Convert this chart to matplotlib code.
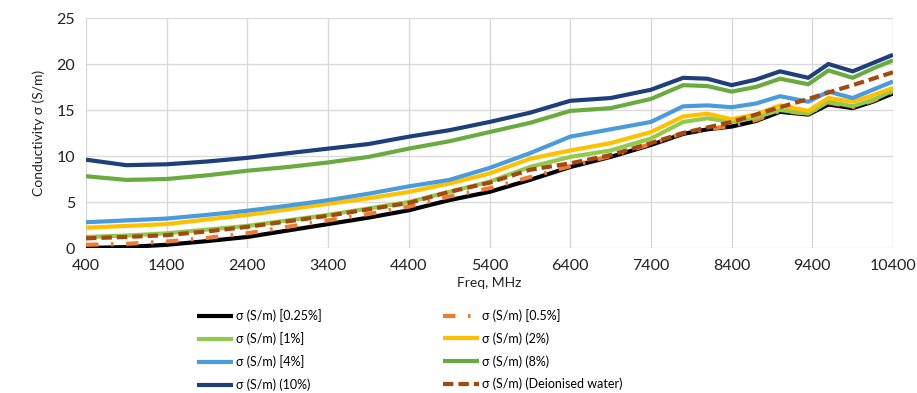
import numpy as np
import matplotlib
matplotlib.use("Agg")
import matplotlib.pyplot as plt

plt.rcParams['font.family'] = ['Lato', 'DejaVu Sans']

# ---- data ----
freq = [400, 900, 1400, 1900, 2400, 2900, 3400, 3900, 4400, 4900, 5400, 5900,
        6400, 6900, 7400, 7800, 8100, 8400, 8700, 9000, 9350, 9600, 9900, 10150, 10400]

s_025 = [0.0, 0.1, 0.35, 0.75, 1.2, 1.9, 2.6, 3.3, 4.1, 5.2, 6.1, 7.4,
         8.8, 9.9, 11.2, 12.4, 12.9, 13.2, 13.8, 14.8, 14.5, 15.6, 15.2, 15.9, 16.8]
s_05 = [0.35, 0.45, 0.7, 1.1, 1.6, 2.3, 3.0, 3.7, 4.5, 5.6, 6.5, 7.7,
        8.9, 10.0, 11.3, 12.5, 12.9, 13.3, 13.9, 14.9, 14.6, 15.8, 15.3, 16.0, 17.0]
s_1 = [1.2, 1.35, 1.6, 2.0, 2.4, 3.0, 3.6, 4.3, 5.0, 6.1, 7.2, 8.8,
       9.9, 10.6, 11.9, 13.7, 14.1, 13.7, 14.2, 15.0, 14.6, 15.9, 15.4, 16.1, 17.1]
s_2 = [2.2, 2.4, 2.6, 3.1, 3.6, 4.2, 4.8, 5.4, 6.1, 7.0, 8.1, 9.7,
       10.6, 11.4, 12.6, 14.3, 14.6, 14.0, 14.5, 15.5, 14.9, 16.3, 15.9, 16.6, 17.4]
s_4 = [2.8, 3.0, 3.2, 3.6, 4.05, 4.6, 5.2, 5.9, 6.7, 7.4, 8.7, 10.3,
       12.1, 12.9, 13.7, 15.4, 15.5, 15.3, 15.7, 16.5, 15.9, 17.0, 16.3, 17.2, 18.1]
s_8 = [7.8, 7.4, 7.5, 7.9, 8.4, 8.8, 9.3, 9.9, 10.8, 11.6, 12.6, 13.6,
       14.9, 15.2, 16.2, 17.7, 17.6, 17.0, 17.5, 18.4, 17.8, 19.3, 18.5, 19.5, 20.4]
s_10 = [9.6, 9.0, 9.1, 9.4, 9.8, 10.3, 10.8, 11.3, 12.1, 12.8, 13.7, 14.7,
        16.0, 16.3, 17.2, 18.5, 18.4, 17.7, 18.3, 19.2, 18.5, 20.0, 19.2, 20.1, 21.0]
s_di = [1.05, 1.2, 1.4, 1.8, 2.3, 2.9, 3.5, 4.2, 4.9, 6.1, 7.1, 8.5,
        9.2, 10.1, 11.4, 12.5, 13.1, 13.7, 14.5, 15.3, 16.2, 16.9, 17.7, 18.4, 19.1]

labels = ["σ (S/m) [0.25%]", "σ (S/m) [0.5%]", "σ (S/m) [1%]", "σ (S/m) (2%)",
          "σ (S/m) [4%]", "σ (S/m) (8%)", "σ (S/m) (10%)", "σ (S/m) (Deionised water)"]
series = [s_025, s_05, s_1, s_2, s_4, s_8, s_10, s_di]
colors = ["#000000", "#ED7D31", "#92C94E", "#FFC000", "#4A9BDC", "#6AAB3F", "#1F3F7A", "#A5480E"]
styles = ["-", (0, (3, 3, 0.6, 3)), "-", "-", "-", "-", "-", (0, (2.5, 1.2))]

fig = plt.figure(figsize=(9.17, 3.93), dpi=100)
ax = fig.add_axes([86 / 917, 1 - 248 / 393, (893 - 86) / 917, (248 - 18) / 393])

handles = []
for y, lab, c, ls in zip(series, labels, colors, styles):
    h, = ax.plot(freq, y, color=c, lw=3, ls=ls, label=lab,
                 solid_capstyle='butt', solid_joinstyle='round', dash_joinstyle='round')
    handles.append(h)

ax.set_xlim(400, 10400)
ax.set_ylim(0, 25)
ax.set_xticks(np.arange(400, 10401, 1000))
ax.set_yticks(np.arange(0, 26, 5))
ax.grid(True, color="#D9D9D9", lw=1)
ax.set_axisbelow(True)
for sp in ax.spines.values():
    sp.set_visible(False)
ax.tick_params(length=0, labelsize=11.5, colors="#222222", pad=8)
ax.set_xlabel("Freq, MHz", fontsize=10, color="#222222", labelpad=3)
ax.set_ylabel("Conductivity σ (S/m)", fontsize=10, color="#222222", labelpad=8)

# legend is filled row by row in the reference; matplotlib fills columns
order = [0, 2, 4, 6, 1, 3, 5, 7]
fig.legend([handles[i] for i in order], [labels[i] for i in order],
           ncol=2, loc="upper left", bbox_to_anchor=(192 / 917, 1 - 304 / 393),
           frameon=False, fontsize=9, handlelength=2.9, handletextpad=0.2,
           labelspacing=0.82, columnspacing=9.7, borderaxespad=0)

fig.savefig("out.png", dpi=100)
